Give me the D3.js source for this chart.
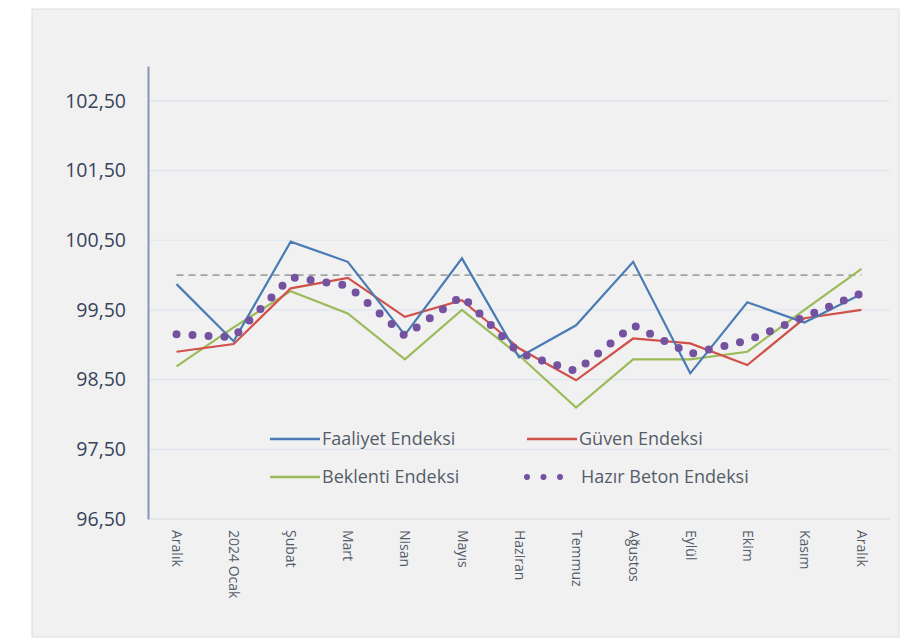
<!DOCTYPE html>
<meta charset="utf-8">
<style>
    body { margin: 0; background: #fff; }
    text { font-family: "Open Sans", "DejaVu Sans", sans-serif; }
</style>
<svg width="913" height="642"></svg>
<script src="https://d3js.org/d3.v7.min.js"></script>
<script>
    // veriler
    var months = ["Aralık", "2024 Ocak", "Şubat", "Mart", "Nisan", "Mayıs", "Haziran",
        "Temmuz", "Ağustos", "Eylül", "Ekim", "Kasım", "Aralık"];
    var faaliyet = [99.87, 99.05, 100.48, 100.19, 99.14, 100.24, 98.82, 99.28, 100.19, 98.59, 99.61, 99.32, 99.73];
    var guven = [98.90, 99.01, 99.81, 99.96, 99.40, 99.64, 98.95, 98.49, 99.09, 99.02, 98.71, 99.38, 99.50];
    var beklenti = [98.69, 99.25, 99.77, 99.45, 98.79, 99.50, 98.85, 98.10, 98.79, 98.79, 98.90, 99.50, 100.09];
    var hazirBeton = [99.15, 99.11, 99.97, 99.85, 99.13, 99.70, 98.88, 98.62, 99.28, 98.87, 99.06, 99.40, 99.74];
    var esik = [100, 100, 100, 100, 100, 100, 100, 100, 100, 100, 100, 100, 100];
    var yTicks = [96.5, 97.5, 98.5, 99.5, 100.5, 101.5, 102.5];
</script>

<script>
    var svg = d3.select("svg");

    // çerçeve
    svg.append("rect")
        .attr("x", 32).attr("y", 9)
        .attr("width", 867).attr("height", 628)
        .attr("fill", "#f1f1f1")
        .attr("stroke", "#dedede");

    var x = d3.scalePoint().domain(d3.range(months.length)).range([148, 890]).padding(0.5);
    var y = d3.scaleLinear().domain([96.5, 103]).range([519, 66]);

    // yatay kılavuz çizgileri
    svg.selectAll(".grid")
        .data(yTicks)
        .enter()
        .append("line")
        .attr("x1", 148).attr("x2", 890)
        .attr("y1", function (d) { return y(d); })
        .attr("y2", function (d) { return y(d); })
        .attr("stroke", function (d) { return d === 96.5 ? "#d8dde2" : "#dde5ee"; })
        .attr("stroke-width", 1.2);

    // y ekseni
    var yAxis = d3.axisLeft(y)
        .tickValues(yTicks)
        .tickSize(0)
        .tickPadding(22)
        .tickFormat(function (d) { return d.toFixed(2).replace(".", ","); });
    var gy = svg.append("g").attr("transform", "translate(148,0)").call(yAxis);
    gy.select(".domain").attr("stroke", "#8796b8").attr("stroke-width", 2);
    gy.selectAll("text")
        .attr("font-size", 19.5)
        .attr("fill", "#38445a");

    // x ekseni etiketleri
    var xAxis = d3.axisBottom(x)
        .tickSize(0)
        .tickFormat(function (i) { return months[i]; });
    var gx = svg.append("g").attr("transform", "translate(0,519)").call(xAxis);
    gx.select(".domain").remove();
    gx.selectAll("text")
        .attr("font-size", 14)
        .attr("fill", "#545c6a")
        .attr("text-anchor", "start")
        .attr("dy", "0.35em")
        .attr("transform", "translate(0,11) rotate(90)")
        .attr("y", 0)
        .attr("x", 0);

    var line = d3.line()
        .x(function (d, i) { return x(i); })
        .y(function (d) { return y(d); });

    // 100 eşiği
    svg.append("path")
        .attr("d", line(esik))
        .attr("fill", "none")
        .attr("stroke", "#a3a3a3")
        .attr("stroke-width", 1.6)
        .attr("stroke-dasharray", "7 5");

    var series = [
        { name: "Beklenti Endeksi", values: beklenti, color: "#9bbb59" },
        { name: "Güven Endeksi", values: guven, color: "#d0504a" },
        { name: "Faaliyet Endeksi", values: faaliyet, color: "#4a7bb4" }
    ];

    svg.selectAll(".seri")
        .data(series)
        .enter()
        .append("path")
        .attr("d", function (d) { return line(d.values); })
        .attr("fill", "none")
        .attr("stroke", function (d) { return d.color; })
        .attr("stroke-width", 2.2);

    svg.append("path")
        .attr("d", line(hazirBeton))
        .attr("fill", "none")
        .attr("stroke", "#7452a0")
        .attr("stroke-width", 8)
        .attr("stroke-linecap", "round")
        .attr("stroke-dasharray", "0 16");

    // lejant
    var legend = [
        { name: "Faaliyet Endeksi", color: "#4a7bb4", x: 270, y: 439, dots: false },
        { name: "Güven Endeksi", color: "#d0504a", x: 527, y: 439, dots: false },
        { name: "Beklenti Endeksi", color: "#9bbb59", x: 270, y: 477, dots: false },
        { name: "Hazır Beton Endeksi", color: "#7452a0", x: 527, y: 477, dots: true }
    ];
    var lg = svg.selectAll(".lg")
        .data(legend)
        .enter()
        .append("g")
        .attr("transform", function (d) { return "translate(" + d.x + "," + d.y + ")"; });
    lg.append("line")
        .attr("x1", 0)
        .attr("x2", function (d) { return d.dots ? 34 : 50; })
        .attr("stroke", function (d) { return d.color; })
        .attr("stroke-width", function (d) { return d.dots ? 6 : 2.5; })
        .attr("stroke-linecap", function (d) { return d.dots ? "round" : "butt"; })
        .attr("stroke-dasharray", function (d) { return d.dots ? "0 16.5" : null; });
    lg.append("text")
        .attr("x", function (d) { return d.dots ? 54 : 52; })
        .attr("dy", "0.35em")
        .attr("font-size", 18)
        .attr("fill", "#555d6a")
        .text(function (d) { return d.name; });
</script>
